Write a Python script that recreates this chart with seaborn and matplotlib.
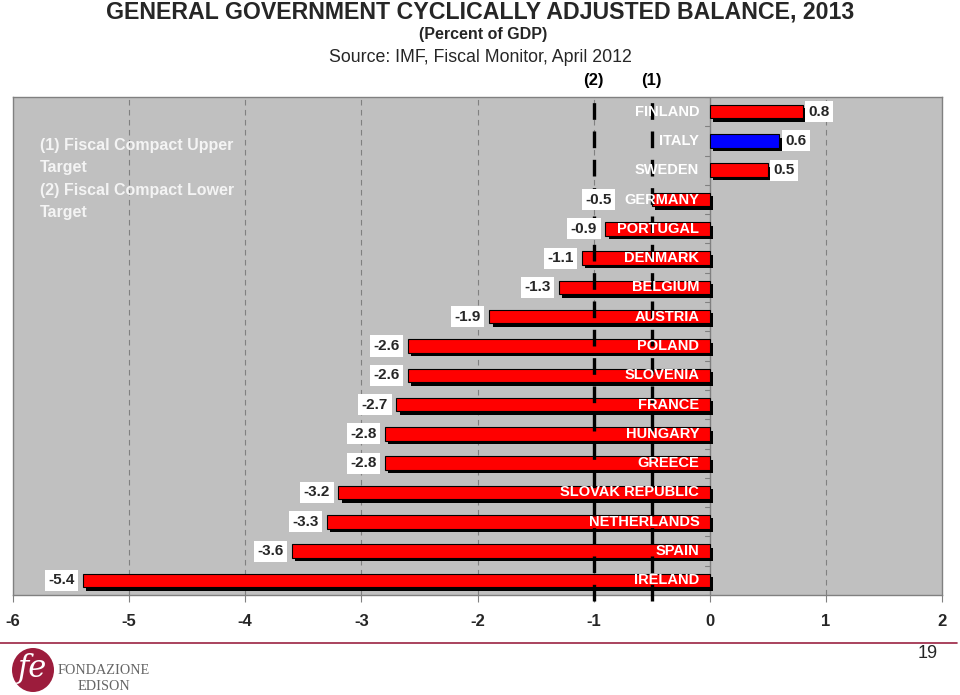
import matplotlib
matplotlib.use("Agg")
import matplotlib.pyplot as plt
import matplotlib.patheffects as pe
from matplotlib.patches import Ellipse
import seaborn as sns
import pandas as pd

countries = ["FINLAND", "ITALY", "SWEDEN", "GERMANY", "PORTUGAL", "DENMARK",
             "BELGIUM", "AUSTRIA", "POLAND", "SLOVENIA", "FRANCE", "HUNGARY",
             "GREECE", "SLOVAK REPUBLIC", "NETHERLANDS", "SPAIN", "IRELAND"]
values = [0.8, 0.6, 0.5, -0.5, -0.9, -1.1, -1.3, -1.9, -2.6, -2.6, -2.7,
          -2.8, -2.8, -3.2, -3.3, -3.6, -5.4]
highlight = "ITALY"
targets = [-1.0, -0.5]
target_labels = ["(2)", "(1)"]
xticks = [-6, -5, -4, -3, -2, -1, 0, 1, 2]

df = pd.DataFrame({"country": countries, "value": values})
df["group"] = ["hl" if c == highlight else "base" for c in countries]

sns.set_style("white")
plt.rcParams["font.family"] = ["Liberation Sans", "DejaVu Sans"]

fig = plt.figure(figsize=(9.6, 6.95), dpi=100)
ax = fig.add_axes([13 / 960, 1 - 595 / 695, 929 / 960, 498 / 695])
ax.set_facecolor("#c0c0c0")

sns.barplot(data=df, x="value", y="country", hue="group",
            palette={"base": "#ff0000", "hl": "#0000ff"}, orient="h",
            width=0.46, dodge=False, legend=False, ax=ax, saturation=1,
            edgecolor="black", linewidth=0.8, zorder=3)
for p in ax.patches:
    p.set_path_effects([pe.SimplePatchShadow(offset=(2.5, -2.5), shadow_rgbFace="black", alpha=1.0),
                        pe.Normal()])

ax.set_xlim(-6, 2)
ax.set_ylim(len(countries) - 0.5, -0.5)
ax.set_xticks(xticks)
ax.set_xticklabels([str(t) for t in xticks], fontsize=12, fontweight="bold")
ax.set_yticks([])
ax.set_xlabel("")
ax.set_ylabel("")
ax.tick_params(axis="x", length=5, color="#808080", pad=9, bottom=True)
for s in ax.spines.values():
    s.set_color("#808080")
    s.set_linewidth(1)

for t in xticks[1:-1]:
    if t != 0:
        ax.axvline(t, color="#808080", lw=0.8, ls=(0, (5, 4)), zorder=1)
ax.axvline(0, color="#808080", lw=1, zorder=2)
for i in range(len(countries) + 1):
    ax.plot([0, -0.04], [i - 0.5, i - 0.5], color="#808080", lw=0.8, zorder=2)

# target lines
for tx, tl in zip(targets, target_labels):
    ax.plot([tx, tx], [len(countries) - 0.3, -0.5], color="black", lw=2.4,
            ls=(0, (5, 3.5)), zorder=5, clip_on=False)
    ax.text(tx, -1.05, tl, ha="center", va="center", fontsize=12,
            fontweight="bold", color="black")

# labels
fig.canvas.draw()
renderer = fig.canvas.get_renderer()
inv = ax.transData.inverted()
for i, (c, v) in enumerate(zip(countries, values)):
    ct = ax.text(-0.09, i, c, ha="right", va="center", color="white",
                 fontsize=10.5, fontweight="bold", zorder=6)
    if v < 0:
        bb = ct.get_window_extent(renderer)
        c_left = inv.transform((bb.x0, 0))[0]
        lx = v - 0.07
        if lx > c_left - 0.1:
            lx = c_left - 0.11
        ax.text(lx, i, f"{v:.1f}", ha="right", va="center", fontsize=11,
                fontweight="bold", zorder=6,
                bbox=dict(facecolor="white", edgecolor="none", pad=2.5))
    else:
        ax.text(v + 0.05, i, f"{v:.1f}", ha="left", va="center", fontsize=11,
                fontweight="bold", zorder=6,
                bbox=dict(facecolor="white", edgecolor="none", pad=2.5))

ax.text(0.029, 0.918, "(1) Fiscal Compact Upper\nTarget\n(2) Fiscal Compact Lower\nTarget",
        transform=ax.transAxes, ha="left", va="top", color="#f4f4f4",
        fontsize=11.5, fontweight="bold", linespacing=1.62)

fig.text(480 / 960, 1 - 12 / 695, "GENERAL GOVERNMENT CYCLICALLY ADJUSTED BALANCE, 2013",
         ha="center", va="center", fontsize=16.7, fontweight="bold")
fig.text(483 / 960, 1 - 35 / 695, "(Percent of GDP)", ha="center", va="center",
         fontsize=11.5, fontweight="bold")
fig.text(480 / 960, 1 - 57 / 695, "Source: IMF, Fiscal Monitor, April 2012",
         ha="center", va="center", fontsize=12.8)

# footer
fig.add_artist(plt.Line2D([0, 957 / 960], [1 - 643 / 695] * 2, color="#9b2242", lw=1.2))
fig.text(928 / 960, 1 - 654 / 695, "19", ha="center", va="center", fontsize=13)
logo = Ellipse((33 / 960, 1 - 670 / 695), 42 / 960, 44 / 695, transform=fig.transFigure,
               facecolor="#9c1c3c", edgecolor="none")
fig.add_artist(logo)
fig.text(33 / 960, 1 - 668 / 695, "fe", ha="center", va="center", fontsize=22,
         color="white", family="DejaVu Serif", style="italic")
fig.text(104 / 960, 1 - 671 / 695, "FONDAZIONE", ha="center", va="center",
         fontsize=10.3, color="#666666", family="Liberation Serif")
fig.text(104 / 960, 1 - 686 / 695, "EDISON", ha="center", va="center",
         fontsize=10.3, color="#666666", family="Liberation Serif")

fig.savefig("out.png", dpi=100)
